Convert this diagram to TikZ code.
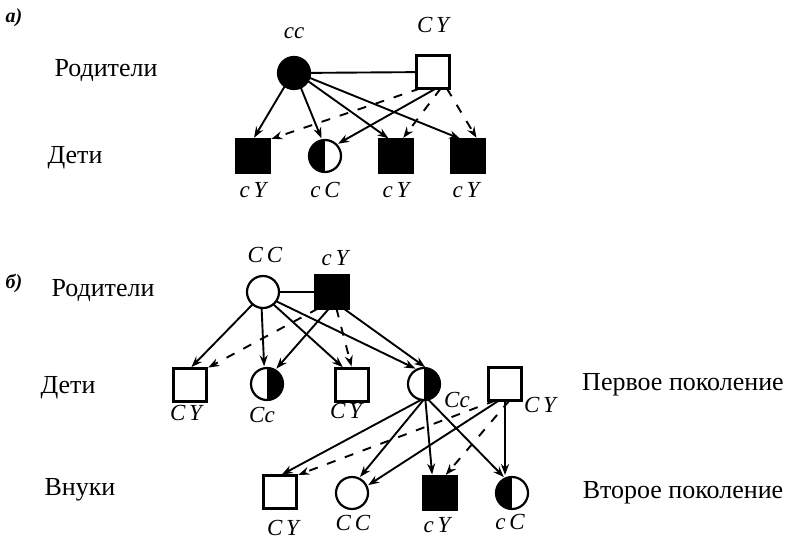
\documentclass[tikz,border=0pt]{standalone}
\usepackage{fontspec}
\setmainfont{Liberation Serif}
\usetikzlibrary{arrows.meta}
\begin{document}
\begin{tikzpicture}[x=1pt,y=-1pt,
  every node/.style={inner sep=0pt, outer sep=0pt},
  ind/.style={draw, line width=2.2pt},
  male/.style={ind, rectangle, minimum size=33pt},
  maleA/.style={male, fill=black},
  fem/.style={ind, circle, minimum size=32pt},
  femA/.style={fem, fill=black},
  carL/.style={fem, path picture={\fill (path picture bounding box.south west) rectangle (path picture bounding box.north);}},
  carR/.style={fem, path picture={\fill (path picture bounding box.south east) rectangle (path picture bounding box.north);}},
  gen/.style={font=\fontsize{26}{30}\selectfont},
  geno/.style={font=\fontsize{23}{26}\selectfont\itshape},
  tag/.style={font=\fontsize{20}{24}\selectfont\itshape\bfseries},
  inh/.style={line width=1.9pt, -{Stealth[length=11pt,width=8pt]}, shorten >=2pt},
  yinh/.style={inh, dash pattern=on 9pt off 10pt},
  mate/.style={line width=1.9pt}
]
\useasboundingbox (0,0) rectangle (786,541);

% ---------- a) ----------
\node[tag] (tagA) at (14,18) {а)};
\node[gen] (parA) at (106,70) {Родители};
\node[gen] (kidA) at (75,158) {Дети};

\node[femA] (ma) at (294,73) {};
\node[male] (fa) at (433,72) {};
\node[geno] (gma) at (294,33) {cc};
\node[geno] (gfa) at (433,25) {C\,Y};
\draw[mate] (ma) -- (fa);

\node[maleA] (a1) at (253,156) {};
\node[carL]  (a2) at (325,156) {};
\node[maleA] (a3) at (396,156) {};
\node[maleA] (a4) at (468,156) {};
\node[geno] (ga1) at (253,190) {c\,Y};
\node[geno] (ga2) at (325,190) {c\,C};
\node[geno] (ga3) at (396,190) {c\,Y};
\node[geno] (ga4) at (466,190) {c\,Y};

\draw[inh] (ma.-125) -- (a1.north);
\draw[inh] (ma.-65) -- (a2.100);
\draw[inh] (ma.-30) -- (a3.110);
\draw[inh] (ma.-17) -- (a4.110);
\draw[yinh] (fa.-128) -- (a1.north east);
\draw[inh] (fa.-80) -- (a2.45);
\draw[yinh] (fa.-65) -- (a3.70);
\draw[yinh] (fa.-50) -- (a4.60);

% ---------- б) ----------
\node[tag] (tagB) at (14,283) {б)};
\node[gen] (parB) at (103,290) {Родители};
\node[gen] (kidB) at (68,388) {Дети};
\node[gen] (grdB) at (80,490) {Внуки};
\node[gen] (g1B) at (683,385) {Первое поколение};
\node[gen] (g2B) at (683,493) {Второе поколение};

\node[fem] (mb) at (263,292) {};
\node[maleA] (fb) at (332,292) {};
\node[geno] (gmb) at (265,255) {C\,C};
\node[geno] (gfb) at (335,258) {c\,Y};
\draw[mate] (mb) -- (fb);

\node[male] (b1) at (190,385) {};
\node[carR] (b2) at (267,384) {};
\node[male] (b3) at (352,385) {};
\node[carR] (b4) at (424,384) {};
\node[male] (sp) at (505,384) {};
\node[geno] (gb1) at (186,413) {C\,Y};
\node[geno] (gb2) at (262,415) {Cc};
\node[geno] (gb3) at (346,411) {C\,Y};
\node[geno] (gb4) at (457,400) {Cc};
\node[geno] (gsp) at (540,405) {C\,Y};

\draw[inh] (mb.-130) -- (b1.north);
\draw[inh] (mb.-95) -- (b2.100);
\draw[inh] (mb.-50) -- (b3.115);
\draw[inh] (mb.-35) -- (b4.115);
\draw[yinh] (fb.-130) -- (b1.north east);
\draw[inh] (fb.-100) -- (b2.60);
\draw[yinh] (fb.-75) -- (b3.north);
\draw[inh] (fb.-55) -- (b4.80);

\node[male]  (g1) at (280,492) {};
\node[fem]   (g2) at (352,493) {};
\node[maleA] (g3) at (440,493) {};
\node[carL]  (g4) at (512,493) {};
\node[geno] (gg1) at (283,528) {C\,Y};
\node[geno] (gg2) at (353,523) {C\,C};
\node[geno] (gg3) at (437,525) {c\,Y};
\node[geno] (gg4) at (510,522) {c\,C};

\draw[inh] (b4.-100) -- (g1.north);
\draw[inh] (b4.-92) -- (g2.65);
\draw[inh] (b4.-85) -- (g3.115);
\draw[inh] (b4.-75) -- (g4.115);
\draw[yinh] (sp.-120) -- (g1.north east);
\draw[inh] (sp.-110) -- (g2.25);
\draw[yinh] (sp.-75) -- (g3.75);
\draw[inh] (sp.south) -- (sp.south |- g4.north);
\end{tikzpicture}
\end{document}
